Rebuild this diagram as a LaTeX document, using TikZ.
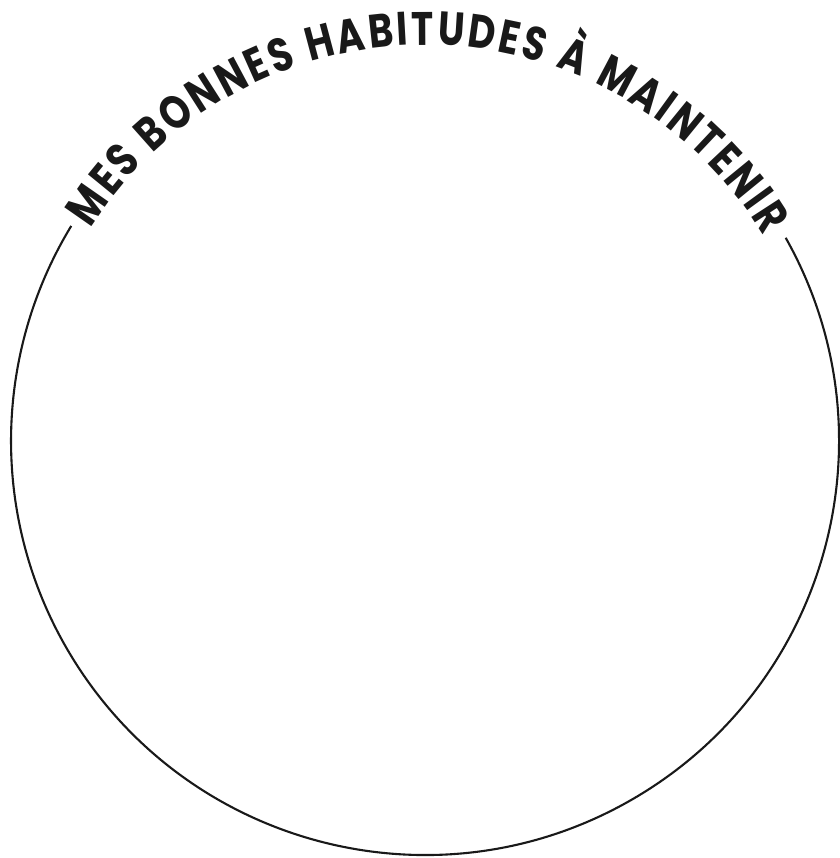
\documentclass[tikz,border=0pt]{standalone}
\usepackage{fontspec}
\newfontfamily\titlefont[FakeStretch=0.8]{Poppins}
\usetikzlibrary{decorations.text,calc}
\tikzset{
  ring/.style={line width=2.1pt, draw=black!90},
  arctitle/.style={decorate, decoration={text along path, text align=fit to path,
    text={|\titlefont\bfseries\fontsize{47}{47}\selectfont\color{black!90}|MES BONNES HABITUDES À MAINTENIR}}}
}
\begin{document}
\begin{tikzpicture}[x=1pt,y=1pt]
  \useasboundingbox (0,0) rectangle (839,858);
  \coordinate (c) at (425,417);
  \draw[ring] ($(c)+(29.4:414)$) arc[start angle=29.4, end angle=-211.3, radius=414];
  \path[arctitle] ($(c)+(147.6:396)$) arc[start angle=147.6, end angle=31.2, radius=396];
\end{tikzpicture}
\end{document}
